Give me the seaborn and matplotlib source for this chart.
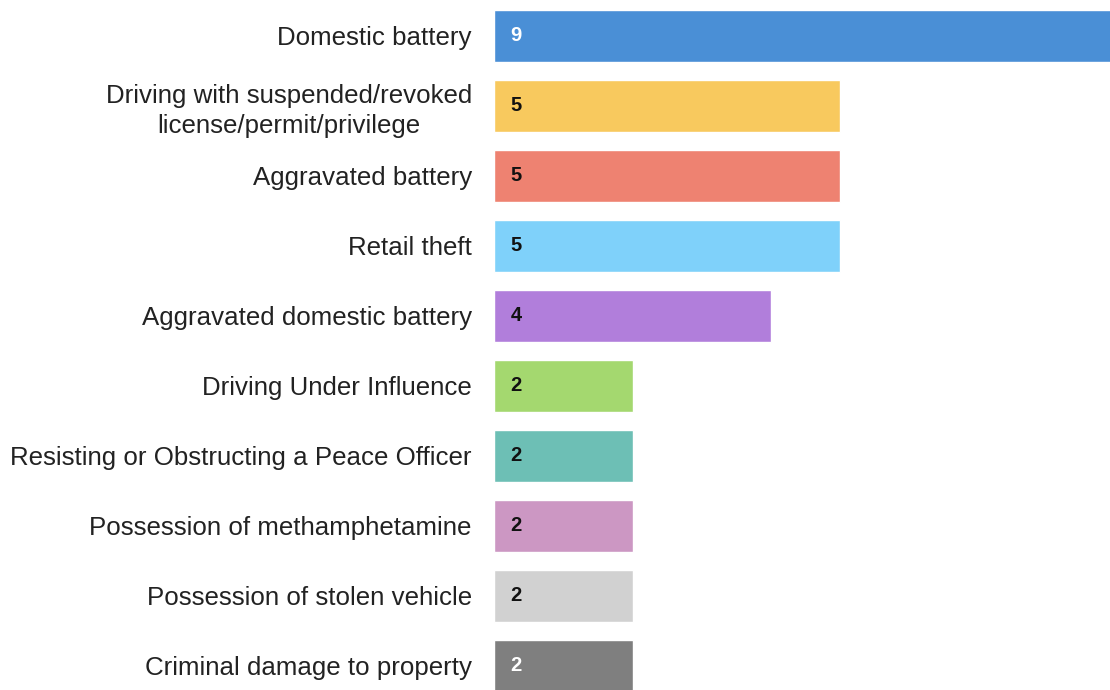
import numpy as np
import pandas as pd
import matplotlib
matplotlib.use('Agg')
import matplotlib.pyplot as plt
import seaborn as sb

offenses = ['Domestic battery',
            'Driving with suspended/revoked\nlicense/permit/privilege',
            'Aggravated battery',
            'Retail theft',
            'Aggravated domestic battery',
            'Driving Under Influence',
            'Resisting or Obstructing a Peace Officer',
            'Possession of methamphetamine',
            'Possession of stolen vehicle',
            'Criminal damage to property']
counts = [9, 5, 5, 5, 4, 2, 2, 2, 2, 2]
bar_colors = ['#4A8FD6', '#F8C95E', '#EE8271', '#7FD1FA', '#B17EDB',
              '#A4D86F', '#6DBFB5', '#CC97C3', '#D1D1D1', '#7F7F7F']
label_colors = ['white', '#111111', '#111111', '#111111', '#111111',
                '#111111', '#111111', '#111111', '#111111', 'white']

df = pd.DataFrame({'offense': offenses, 'count': counts})

sb.set_style('white')
plt.rcParams['font.family'] = ['Liberation Sans', 'DejaVu Sans']

fig = plt.figure(figsize=(11.1, 6.9), dpi=100)
ax = fig.add_axes([494 / 1110, 0, 1 - 494 / 1110, 1])

sb.barplot(data=df, x='count', y='offense', hue='offense', palette=bar_colors,
           orient='h', width=0.743, legend=False, ax=ax, saturation=1)

for i, (v, c) in enumerate(zip(counts, label_colors)):
    ax.text(0.32, i, str(v), ha='center', va='center', fontsize=14.5,
            fontweight='bold', color=c)

ax.set_xlim(0, 8.89)
ax.set_ylim(9.343, -0.514)
ax.set_xlabel('')
ax.set_ylabel('')
ax.set_xticks([])
ax.tick_params(axis='y', length=0, pad=16, labelsize=18.6, labelcolor='#222222')
for lbl in ax.get_yticklabels():
    lbl.set_multialignment('center')
    lbl.set_linespacing(1.3)
sb.despine(ax=ax, left=True, bottom=True)

fig.savefig('out.png', dpi=100)
